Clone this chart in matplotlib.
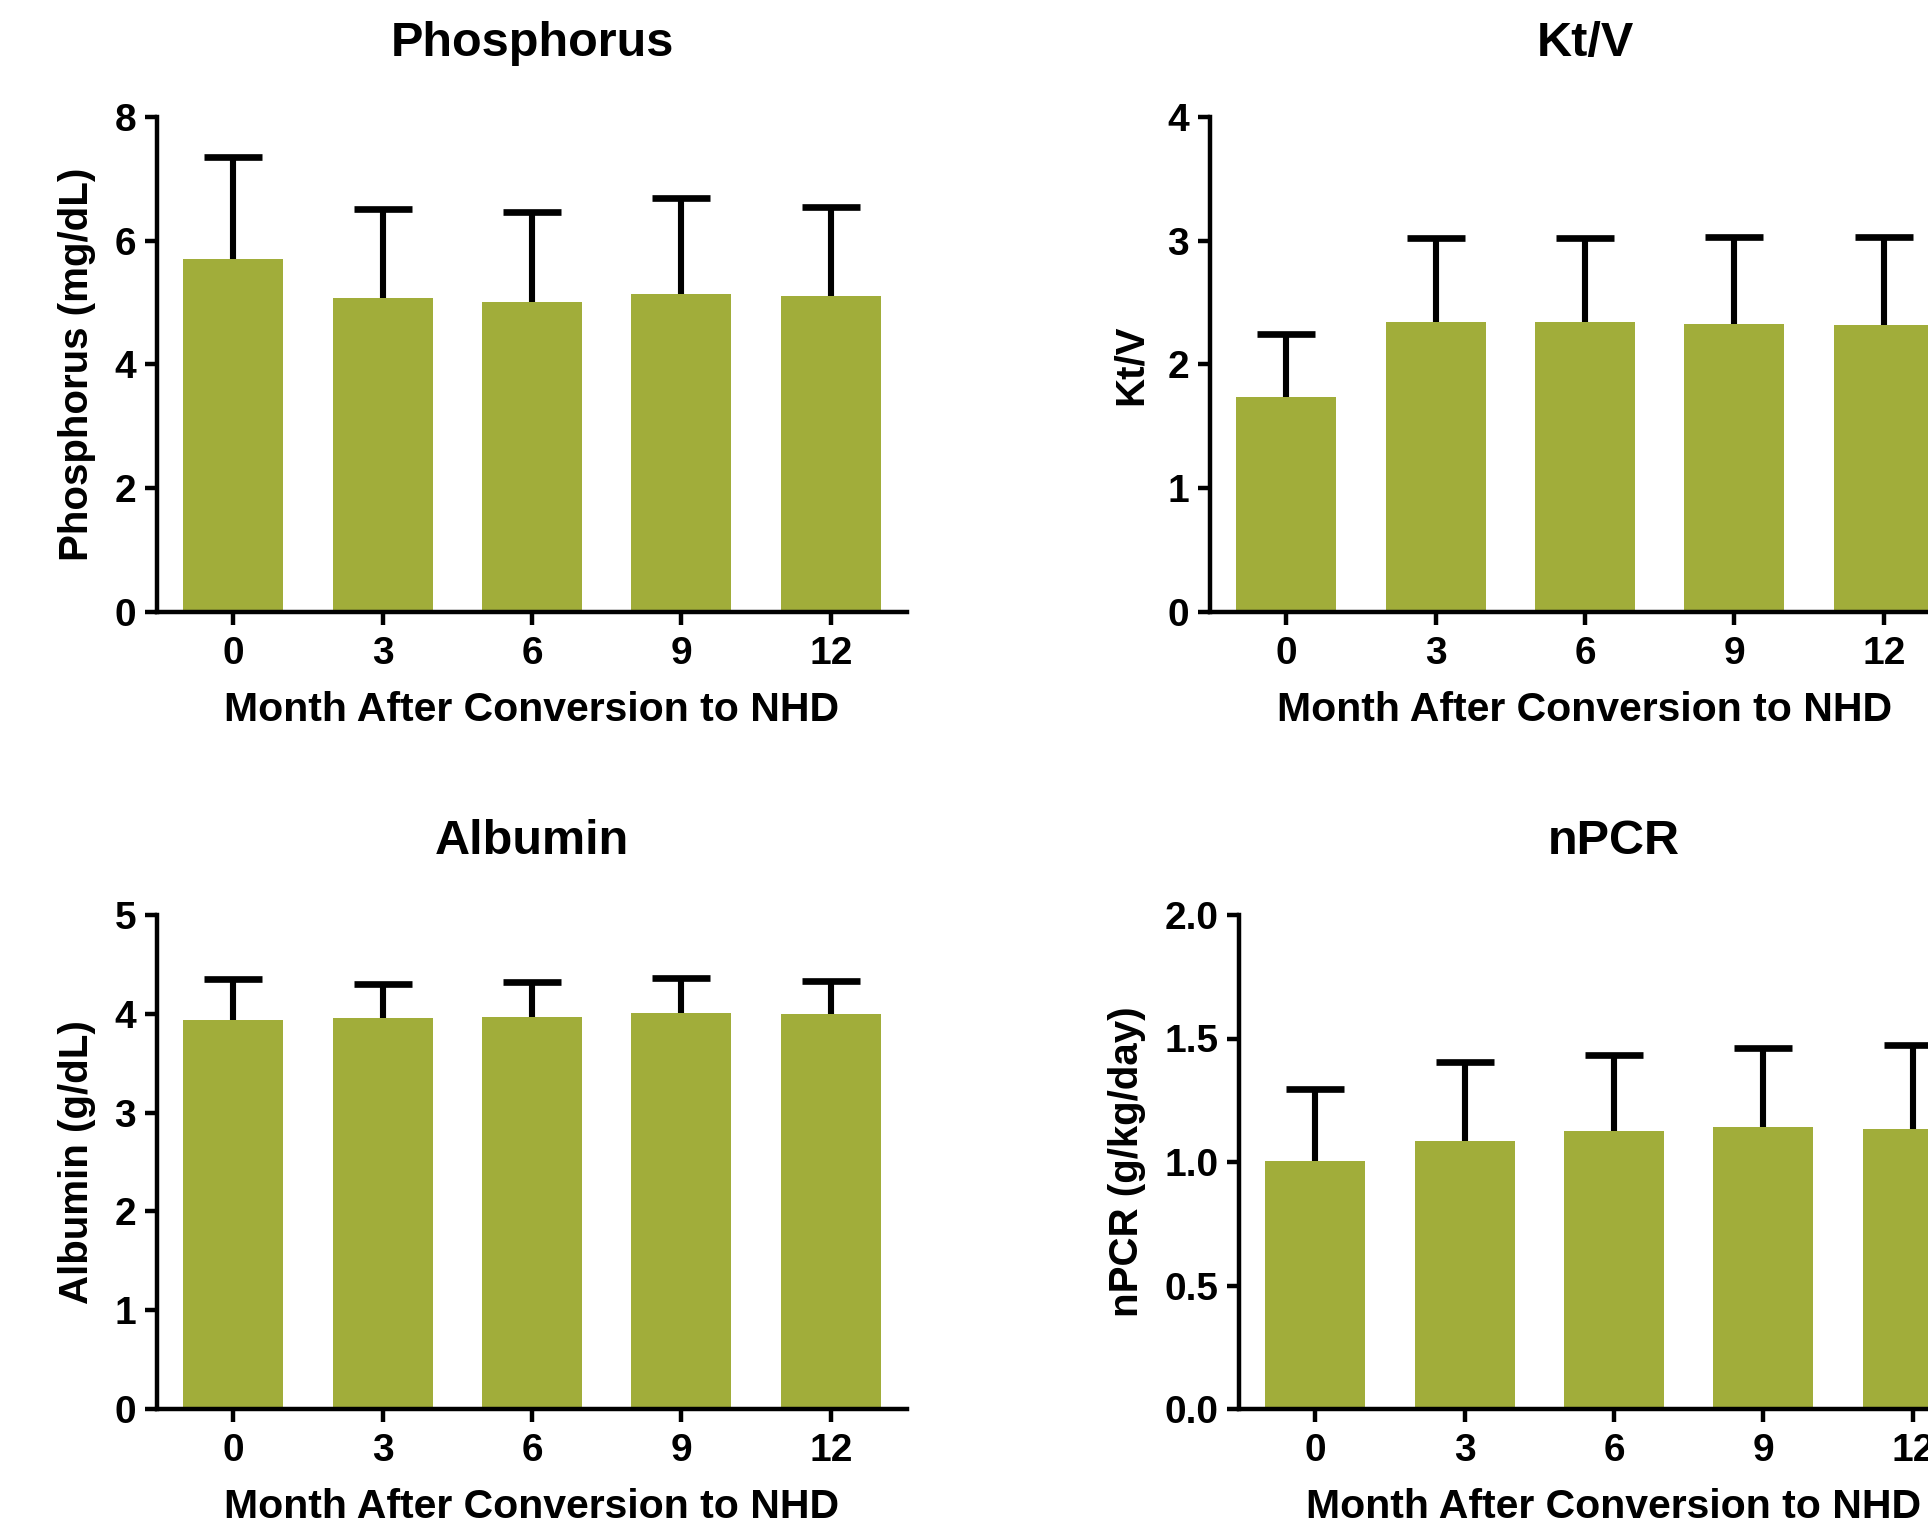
import matplotlib
matplotlib.use('Agg')
import matplotlib.pyplot as plt
import numpy as np

# months after conversion to NHD
months = ['0', '3', '6', '9', '12']

phos_mean = [5.70, 5.07, 5.01, 5.14, 5.10]
phos_sd = [1.65, 1.45, 1.45, 1.55, 1.44]

ktv_mean = [1.74, 2.34, 2.34, 2.33, 2.32]
ktv_sd = [0.51, 0.68, 0.68, 0.70, 0.71]

alb_mean = [3.94, 3.96, 3.97, 4.01, 4.00]
alb_sd = [0.41, 0.34, 0.35, 0.35, 0.33]

npcr_mean = [1.005, 1.085, 1.125, 1.142, 1.134]
npcr_sd = [0.29, 0.32, 0.31, 0.32, 0.34]

bar_color = '#a1ad3a'
plt.rcParams['font.family'] = ['Liberation Sans', 'DejaVu Sans']
plt.rcParams['font.weight'] = 'bold'

W, H = 1928, 1528
fig = plt.figure(figsize=(W / 100, H / 100), dpi=100)


def panel(rect_px, mean, sd, title, ylabel, yticks, fmt):
    left, top, width, height = rect_px
    ax = fig.add_axes([left / W, (H - top - height) / H, width / W, height / H])
    x = np.arange(len(months))
    ax.bar(x, mean, width=0.67, color=bar_color, zorder=2)
    # upper error bar only
    _, caps, _ = ax.errorbar(x, mean, yerr=[np.zeros(len(sd)), sd], fmt='none',
                             ecolor='black', elinewidth=4.4, capsize=21,
                             capthick=4.8, zorder=3)
    caps[0].set_visible(False)
    ax.set_xlim(-0.51, 4.51)
    ax.set_ylim(0, yticks[-1])
    ax.set_yticks(yticks)
    ax.set_yticklabels([fmt.format(v) for v in yticks])
    ax.set_xticks(x)
    ax.set_xticklabels(months)
    for s in ['top', 'right']:
        ax.spines[s].set_visible(False)
    for s in ['left', 'bottom']:
        ax.spines[s].set_linewidth(3.2)
    ax.tick_params(axis='both', direction='out', length=9, width=3.2,
                   labelsize=28, pad=6)
    ax.tick_params(axis='x', pad=8)
    ax.set_title(title, fontsize=35, fontweight='bold', pad=44)
    ax.set_xlabel('Month After Conversion to NHD', fontsize=29.5, fontweight='bold', labelpad=14)
    ax.set_ylabel(ylabel, fontsize=29, fontweight='bold', labelpad=13)
    return ax


panel((157, 117, 750, 495), phos_mean, phos_sd, 'Phosphorus', 'Phosphorus (mg/dL)',
      [0, 2, 4, 6, 8], '{:g}')
panel((1210, 117, 750, 495), ktv_mean, ktv_sd, 'Kt/V', 'Kt/V',
      [0, 1, 2, 3, 4], '{:g}')
panel((157, 915, 750, 494), alb_mean, alb_sd, 'Albumin', 'Albumin (g/dL)',
      [0, 1, 2, 3, 4, 5], '{:g}')
panel((1239, 915, 750, 494), npcr_mean, npcr_sd, 'nPCR', 'nPCR (g/kg/day)',
      [0, 0.5, 1.0, 1.5, 2.0], '{:.1f}')

fig.savefig('out.png', dpi=100)
